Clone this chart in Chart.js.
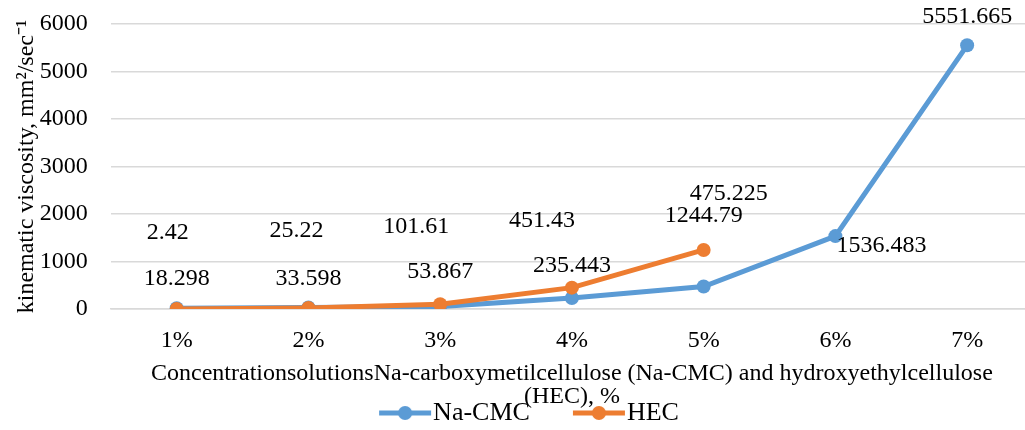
<!DOCTYPE html>
<html>
<head>
<meta charset="utf-8">
<script src="https://cdn.jsdelivr.net/npm/chart.js@4.4.1/dist/chart.umd.min.js"></script>
<style>
  body { margin: 0; background: #fff; overflow: hidden; }
  #wrap { width: 1040px; height: 430px; }
</style>
</head>
<body>
<div id="wrap"><canvas id="myChart" width="1040" height="430"></canvas></div>
<script>
// 데이터
const categories = ['1%', '2%', '3%', '4%', '5%', '6%', '7%'];
const naCmc = [18.298, 33.598, 53.867, 235.443, 475.225, 1536.483, 5551.665];
const hec = [2.42, 25.22, 101.61, 451.43, 1244.79];
const yTicks = [0, 1000, 2000, 3000, 4000, 5000, 6000];

// label offsets (px from the point), Excel had them dragged around
const naCmcLabelDx = [0, 0, 0, 0, 25, 46, 0];
const naCmcLabelDy = [-30, -29, -35, -32, -93, 10, -29];
const hecLabelDx = [-9, -12, -24, -30, 0];
const hecLabelDy = [-76, -77, -78, -67, -34];

const BLUE = '#5b9bd5';
const ORANGE = '#ed7d31';
const FONT = "'Liberation Serif', 'Times New Roman', serif";
const FS = 24;
const LEGEND_FS = 26;
const MARK_W = 53; // legend box width
const LEGEND_PAD = 31;

// legend marker: line + dot, drawn in the right part of the image
function legendMarker(color) {
  const w = 2 * (MARK_W / 2 + LEGEND_FS / 2);
  const c = document.createElement('canvas');
  c.width = w;
  c.height = 16;
  const g = c.getContext('2d');
  g.strokeStyle = color;
  g.lineWidth = 5;
  g.beginPath();
  g.moveTo(w - 54, 8);
  g.lineTo(w - 2, 8);
  g.stroke();
  g.fillStyle = color;
  g.beginPath();
  g.arc(w - 28, 8, 7, 0, Math.PI * 2);
  g.fill();
  return c;
}

const valueLabels = {
  id: 'valueLabels',
  afterDatasetsDraw(chart) {
    const ctx = chart.ctx;
    const offs = [
      [naCmcLabelDx, naCmcLabelDy],
      [hecLabelDx, hecLabelDy],
    ];
    ctx.save();
    ctx.font = FS + 'px ' + FONT;
    ctx.fillStyle = '#000';
    ctx.textAlign = 'center';
    ctx.textBaseline = 'middle';
    chart.data.datasets.forEach((ds, i) => {
      const meta = chart.getDatasetMeta(i);
      meta.data.forEach((pt, j) => {
        ctx.fillText(String(ds.data[j]), pt.x + offs[i][0][j], pt.y + offs[i][1][j]);
      });
    });
    ctx.restore();
  },
};

const chartArea = document.getElementById('myChart').getContext('2d');
const myChart = new Chart(chartArea, {
  type: 'line',
  data: {
    labels: categories,
    datasets: [
      {
        label: 'Na-CMC',
        data: naCmc,
        borderColor: BLUE,
        backgroundColor: BLUE,
        borderWidth: 5,
        pointRadius: 7,
        pointBorderWidth: 0,
        pointStyle: 'circle',
        order: 1,
      },
      {
        label: 'HEC',
        data: hec,
        borderColor: ORANGE,
        backgroundColor: ORANGE,
        borderWidth: 5,
        pointRadius: 7,
        pointBorderWidth: 0,
        pointStyle: 'circle',
        order: 0,
      },
    ],
  },
  options: {
    responsive: false,
    animation: false,
    layout: { padding: { left: 12, right: 6, top: 24, bottom: -6 } },
    scales: {
      x: {
        offset: true,
        grid: { display: false },
        border: { color: '#d9d9d9', width: 1.5 },
        ticks: { color: '#000', font: { family: FONT, size: FS }, padding: 9 },
        title: {
          display: true,
          text: [
            'ConcentrationsolutionsNa-carboxymetilcellulose (Na-CMC) and hydroxyethylcellulose',
            '(HEC), %',
          ],
          color: '#000',
          font: { family: FONT, size: FS, lineHeight: 0.96 },
          padding: { top: -2, bottom: -12 - (LEGEND_PAD - 4) },
        },
      },
      y: {
        min: 0,
        max: 6000,
        afterBuildTicks: (axis) => {
          axis.ticks = yTicks.map((v) => ({ value: v }));
        },
        afterFit: (axis) => {
          axis.paddingTop = 0;
        },
        grid: { color: '#d9d9d9', lineWidth: 1.5, drawTicks: false },
        border: { display: false },
        ticks: {
          color: '#000',
          font: { family: FONT, size: FS },
          padding: 23,
          callback: (v) => String(v),
        },
        title: {
          display: true,
          text: 'kinematic viscosity, mm²/sec⁻¹',
          color: '#000',
          font: { family: FONT, size: FS },
          padding: { top: 0, bottom: -24 },
        },
      },
    },
    plugins: {
      legend: {
        position: 'bottom',
        labels: {
          usePointStyle: true,
          pointStyleWidth: MARK_W,
          color: '#000',
          font: { family: FONT, size: LEGEND_FS },
          padding: LEGEND_PAD,
          generateLabels: (chart) =>
            chart.data.datasets.map((ds, i) => ({
              text: ds.label,
              fontColor: '#000',
              pointStyle: legendMarker(ds.borderColor),
              datasetIndex: i,
              hidden: false,
              lineWidth: 0,
            })),
        },
      },
      tooltip: { enabled: false },
    },
  },
  plugins: [valueLabels],
});
</script>
</body>
</html>
